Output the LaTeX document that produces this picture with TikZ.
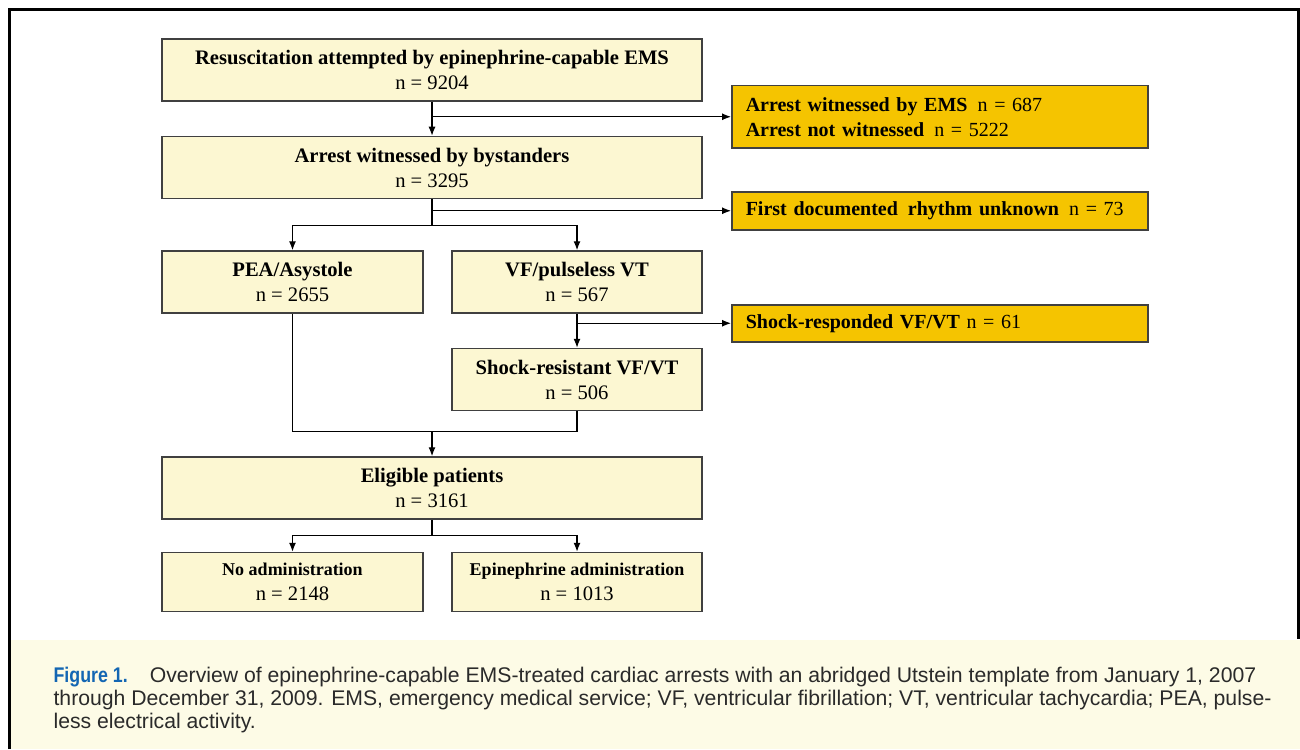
\documentclass[tikz,border=0pt]{standalone}
\usepackage{fontspec}
\setmainfont{Liberation Serif}
\newfontfamily\capfont{Liberation Sans}
\newfontfamily\figfont[FakeStretch=0.84]{Liberation Sans Bold}
\usetikzlibrary{arrows.meta,positioning}

\definecolor{boxfill}{HTML}{FCF7D2}
\definecolor{sidefill}{HTML}{F5C400}
\definecolor{boxline}{HTML}{404040}
\definecolor{capfill}{HTML}{FDFBE6}
\definecolor{figblue}{HTML}{1366B3}
\definecolor{captext}{HTML}{2A2A2A}

\newcommand{\gap}{\hspace{5pt}}

\tikzset{
  box/.style={draw=boxline, fill=boxfill, line width=0.75pt, align=center, inner sep=2pt,
    minimum height=31pt, font=\fontsize{10.3}{12.5}\selectfont},
  wide/.style={box, minimum width=270pt},
  left col/.style={box, minimum width=130.5pt},
  right col/.style={box, minimum width=125pt},
  side/.style={draw=boxline, fill=sidefill, line width=0.75pt, align=left, anchor=north west,
    inner xsep=7pt, inner ysep=2pt, text width=194pt, font=\fontsize{10}{12.5}\selectfont}
}

\begin{document}
\begin{tikzpicture}[x=0.5pt, y=-0.5pt, line width=0.6pt, >={Latex[length=4.5pt,width=3.5pt]}]
    \useasboundingbox (0,0) rectangle (1300,749);
    \fill[capfill] (10,640) rectangle (1300,749);
    \draw[line width=1.5pt] (9,749) -- (9,9.5) -- (1298.5,9.5) -- (1298.5,639);

    \node[wide] (resus) at (432,70) {\textbf{Resuscitation attempted by epinephrine-capable EMS}\\ n = 9204};
    \node[wide] (bystand) [below=17pt of resus] {\textbf{Arrest witnessed by bystanders}\\ n = 3295};
    \node[left col] (pea) [below=25.5pt of bystand.south west, anchor=north west] {\textbf{PEA/Asystole}\\ n = 2655};
    \node[right col] (vf) [below=25.5pt of bystand.south east, anchor=north east] {\textbf{VF/pulseless VT}\\ n = 567};
    \node[right col] (shockres) [below=17pt of vf] {\textbf{Shock-resistant VF/VT}\\ n = 506};
    \node[wide] (eligible) at (432,488) {\textbf{Eligible patients}\\ n = 3161};
    \node[left col, minimum height=29.5pt] (noadm) [below=16pt of eligible.south west, anchor=north west]
        {{\fontsize{9}{12.5}\selectfont\textbf{No administration}}\\ n = 2148};
    \node[right col, minimum height=29.5pt] (epiadm) [below=16pt of eligible.south east, anchor=north east]
        {{\fontsize{9}{12.5}\selectfont\textbf{Epinephrine administration}}\\ n = 1013};

    \node[side, minimum height=31pt] (witness) at (731,85)
        {\textbf{Arrest witnessed by EMS}\gap n~=~687\\ \textbf{Arrest not witnessed}\gap n~=~5222};
    \node[side, minimum height=19pt] (unknown) at (731,191)
        {\mbox{\textbf{First documented\gap rhythm unknown}\gap n~=~73}};
    \node[side, minimum height=18.5pt] (shockresp) at (731,304)
        {\textbf{Shock-responded VF/VT} n~=~61};

    \coordinate[below=13pt of bystand.south] (split1);
    \coordinate[above=12.5pt of eligible.north] (merge);
    \coordinate[below=8pt of eligible.south] (split2);

    \draw[->] (resus) -- (bystand);
    \draw[->] (resus.south |- witness.west) -- (witness.west);
    \draw (bystand) -- (split1);
    \draw[->] (split1) -| (pea.north);
    \draw[->] (split1) -| (vf.north);
    \draw[->] (bystand.south |- unknown.west) -- (unknown.west);
    \draw[->] (vf) -- (shockres);
    \draw[->] (vf.south |- shockresp.west) -- (shockresp.west);
    \draw (pea.south) |- (merge) -| (shockres.south);
    \draw[->] (merge) -- (eligible);
    \draw (eligible) -- (split2);
    \draw[->] (split2) -| (noadm.north);
    \draw[->] (split2) -| (epiadm.north);

    \node[anchor=west, align=left, inner sep=0pt, text=captext, font=\capfont\fontsize{10.6}{11.5}\selectfont] (caption) at (53,700)
        {{\figfont\color{figblue}Figure 1.}\hspace{11pt}Overview of epinephrine-capable EMS-treated cardiac arrests with an abridged Utstein template from January 1, 2007\\
        through December 31, 2009. EMS, emergency medical service; VF, ventricular fibrillation; VT, ventricular tachycardia; PEA, pulse-\\
        less electrical activity.};
\end{tikzpicture}
\end{document}
